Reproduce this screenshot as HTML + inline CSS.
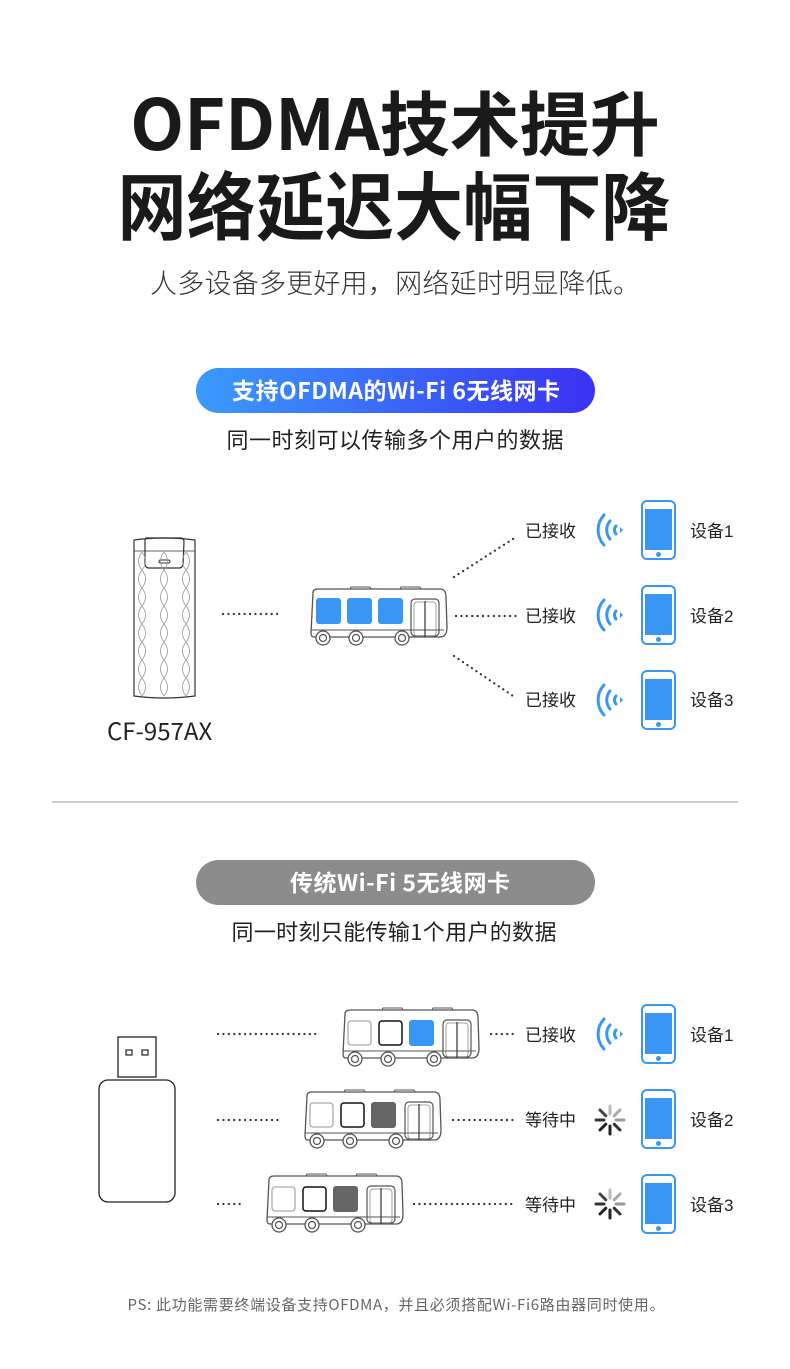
<!DOCTYPE html>
<html><head><meta charset="utf-8"><style>
html,body{margin:0;padding:0;background:#fff;}
svg{display:block;}
text{font-family:"Liberation Sans","Noto Sans CJK SC",sans-serif;}
</style></head><body>
<svg width="790" height="1369" viewBox="0 0 790 1369" xmlns="http://www.w3.org/2000/svg">
<defs>
<linearGradient id="g1" x1="0" x2="1" y1="0" y2="0"><stop offset="0" stop-color="#3a9bfb"/><stop offset="1" stop-color="#3a32f4"/></linearGradient>
<g id="busbody">
  <path d="M3 6 Q3 2 8 2 L130 2 Q136 2 136 10 L137 40 Q137 50 130 50 L4 50 Q1 50 1 46 Z" fill="#fff" stroke="#555" stroke-width="1.3"/>
  <path d="M40 2 L41 0 L60 0 L61 2 M90 2 L91 0 L110 0 L111 2" fill="none" stroke="#555" stroke-width="1"/>
  <line x1="1" y1="43" x2="134" y2="43" stroke="#555" stroke-width="1"/>
  <rect x="101" y="12" width="28" height="37" rx="4" fill="none" stroke="#555" stroke-width="1.2"/>
  <rect x="104" y="15" width="22" height="34" rx="3" fill="none" stroke="#888" stroke-width="0.8"/>
  <line x1="115" y1="14" x2="115" y2="50" stroke="#333" stroke-width="1.2"/>
  <g fill="#fff" stroke="#555" stroke-width="1.3">
    <circle cx="13" cy="51" r="7"/><circle cx="46" cy="51" r="7"/><circle cx="92" cy="51" r="7"/>
  </g>
  <g fill="none" stroke="#555" stroke-width="1.2">
    <circle cx="13" cy="51" r="3.5"/><circle cx="46" cy="51" r="3.5"/><circle cx="92" cy="51" r="3.5"/>
  </g>
</g>
<g id="phone">
  <rect x="1" y="1" width="33" height="58" rx="5" fill="#fff" stroke="#3a96f5" stroke-width="2"/>
  <rect x="4" y="9" width="27" height="41" fill="#3a96f5"/>
  <circle cx="17.5" cy="54.5" r="2.5" fill="#3a96f5"/>
</g>
<g id="wifi" fill="none" stroke="#3a96f5" stroke-width="3" stroke-linecap="round">
  <path d="M10 -15 A22 22 0 0 0 10 15"/>
  <path d="M16 -9 A14 14 0 0 0 16 9"/>
  <path d="M22 -4 A6 6 0 0 0 22 4"/>
  <path d="M26 -3 L29 0 L26 3 Z" fill="#3a96f5" stroke-width="0"/>
</g>
<g id="spin" stroke-width="3" stroke-linecap="round">
  <line x1="0" y1="-6" x2="0" y2="-14" stroke="#bbb"/>
  <line x1="4.2" y1="-4.2" x2="10" y2="-10" stroke="#aaa"/>
  <line x1="6" y1="0" x2="14" y2="0" stroke="#999"/>
  <line x1="4.2" y1="4.2" x2="10" y2="10" stroke="#333"/>
  <line x1="0" y1="6" x2="0" y2="14" stroke="#222"/>
  <line x1="-4.2" y1="4.2" x2="-10" y2="10" stroke="#222"/>
  <line x1="-6" y1="0" x2="-14" y2="0" stroke="#333"/>
  <line x1="-4.2" y1="-4.2" x2="-10" y2="-10" stroke="#444"/>
</g>
</defs>

<!-- Titles -->
<text x="395" y="150" text-anchor="middle" font-size="70" font-weight="bold" fill="#1a1a1a" style="font-family:'Noto Sans CJK SC',sans-serif">OFDMA技术提升</text>
<text x="394" y="234" text-anchor="middle" font-size="74" font-weight="bold" fill="#1a1a1a" textLength="553" lengthAdjust="spacingAndGlyphs" style="font-family:'Noto Sans CJK SC',sans-serif">网络延迟大幅下降</text>
<text x="395" y="293" text-anchor="middle" font-size="27" fill="#333" textLength="490" style="font-family:'Noto Sans CJK SC',sans-serif;font-weight:300">人多设备多更好用，网络延时明显降低。</text>

<!-- pill 1 -->
<rect x="196" y="368" width="399" height="45" rx="22.5" fill="url(#g1)"/>
<text x="396" y="399" text-anchor="middle" font-size="23" fill="#fff" font-weight="bold" textLength="328" style="font-family:'Noto Sans CJK SC',sans-serif">支持OFDMA的Wi-Fi 6无线网卡</text>
<text x="395" y="448" text-anchor="middle" font-size="22" fill="#222" textLength="337" style="font-family:'Noto Sans CJK SC',sans-serif">同一时刻可以传输多个用户的数据</text>

<!-- dongle top -->
<g fill="none" stroke="#333" stroke-width="1.2">
  <path d="M134 540 Q164 536 195 540 L195 696 Q164 700 134 696 Z"/>
  <line x1="134" y1="551" x2="195" y2="551" stroke-width="0.8"/>
  <path d="M146 538 L181 538 Q184 538 184 542 L183 565 Q182 568 179 568 L149 568 Q146 568 145 565 L145 542 Q145 538 146 538 Z"/>
  <rect x="159" y="560" width="11" height="3" rx="1.5" stroke-width="0.9"/>
</g>
<g fill="none" stroke="#999" stroke-width="0.8">
  <path d="M142 552 q-7 9 0 18 q7 9 0 18 q-7 9 0 18 q7 9 0 18 q-7 9 0 18 q7 9 0 18 q-7 9 0 18 q7 9 0 18"/>
  <path d="M142 552 q7 9 0 18 q-7 9 0 18 q7 9 0 18 q-7 9 0 18 q7 9 0 18 q-7 9 0 18 q7 9 0 18 q-7 9 0 18"/>
  <path d="M164 552 q-7 9 0 18 q7 9 0 18 q-7 9 0 18 q7 9 0 18 q-7 9 0 18 q7 9 0 18 q-7 9 0 18 q7 9 0 18"/>
  <path d="M164 552 q7 9 0 18 q-7 9 0 18 q7 9 0 18 q-7 9 0 18 q7 9 0 18 q-7 9 0 18 q7 9 0 18 q-7 9 0 18"/>
  <path d="M186 552 q-7 9 0 18 q7 9 0 18 q-7 9 0 18 q7 9 0 18 q-7 9 0 18 q7 9 0 18 q-7 9 0 18 q7 9 0 18"/>
  <path d="M186 552 q7 9 0 18 q-7 9 0 18 q7 9 0 18 q-7 9 0 18 q7 9 0 18 q-7 9 0 18 q7 9 0 18 q-7 9 0 18"/>
</g>
<text x="107" y="740" font-size="24" fill="#222" style="font-family:'Noto Sans CJK SC',sans-serif">CF-957AX</text>

<!-- dotted lines top -->
<g stroke="#333" stroke-width="2.2" stroke-dasharray="0.1 5.3" stroke-linecap="round" fill="none">
  <line x1="223" y1="614" x2="282" y2="614"/>
  <line x1="456" y1="616" x2="516" y2="616"/>
  <line x1="454" y1="577" x2="516" y2="537"/>
  <line x1="454" y1="656" x2="516" y2="698"/>
</g>

<!-- bus top -->
<g transform="translate(310,587)">
  <use href="#busbody"/>
  <rect x="6" y="11" width="25" height="26" rx="3" fill="#3a96f5"/>
  <rect x="37" y="11" width="25" height="26" rx="3" fill="#3a96f5"/>
  <rect x="68" y="11" width="25" height="26" rx="3" fill="#3a96f5"/>
</g>

<!-- right column -->
<g font-size="17" fill="#222" style="font-family:'Noto Sans CJK SC',sans-serif">
  <text x="525" y="537">已接收</text>
  <text x="525" y="622">已接收</text>
  <text x="525" y="706">已接收</text>
  <text x="690" y="537">设备1</text>
  <text x="690" y="622">设备2</text>
  <text x="690" y="706">设备3</text>
  <text x="525" y="1041">已接收</text>
  <text x="525" y="1126">等待中</text>
  <text x="525" y="1211">等待中</text>
  <text x="690" y="1041">设备1</text>
  <text x="690" y="1126">设备2</text>
  <text x="690" y="1211">设备3</text>
</g>
<use href="#wifi" transform="translate(594,530)"/>
<use href="#wifi" transform="translate(594,615)"/>
<use href="#wifi" transform="translate(594,700)"/>
<use href="#phone" transform="translate(641,500)"/>
<use href="#phone" transform="translate(641,585)"/>
<use href="#phone" transform="translate(641,670)"/>

<line x1="52" y1="802" x2="738" y2="802" stroke="#999" stroke-width="1"/>

<!-- pill 2 -->
<rect x="196" y="860" width="399" height="45" rx="22.5" fill="#8c8c8c"/>
<text x="400" y="891" text-anchor="middle" font-size="23" fill="#fff" font-weight="bold" textLength="220" style="font-family:'Noto Sans CJK SC',sans-serif">传统Wi-Fi 5无线网卡</text>
<text x="394" y="940" text-anchor="middle" font-size="22" fill="#222" textLength="325" style="font-family:'Noto Sans CJK SC',sans-serif">同一时刻只能传输1个用户的数据</text>

<!-- usb bottom -->
<g fill="#fff" stroke="#222" stroke-width="1.3">
  <rect x="118" y="1037" width="38" height="40"/>
  <rect x="126" y="1050" width="6" height="5" stroke-width="1.2"/>
  <rect x="142" y="1050" width="6" height="5" stroke-width="1.2"/>
  <rect x="99" y="1080" width="76" height="122" rx="9"/>
</g>

<!-- dotted lines bottom -->
<g stroke="#333" stroke-width="2.2" stroke-dasharray="0.1 5.3" stroke-linecap="round" fill="none">
  <line x1="218" y1="1034" x2="320" y2="1034"/>
  <line x1="491" y1="1034" x2="516" y2="1034"/>
  <line x1="218" y1="1120" x2="281" y2="1120"/>
  <line x1="453" y1="1120" x2="516" y2="1120"/>
  <line x1="218" y1="1204" x2="243" y2="1204"/>
  <line x1="414" y1="1204" x2="516" y2="1204"/>
</g>

<g transform="translate(342,1008)">
  <use href="#busbody"/>
  <rect x="6" y="13" width="23" height="24" rx="3" fill="#fff" stroke="#aaa" stroke-width="1.3"/>
  <rect x="37" y="13" width="23" height="24" rx="3" fill="#fff" stroke="#111" stroke-width="1.5"/>
  <rect x="67" y="12" width="25" height="26" rx="3" fill="#3a96f5"/>
</g>
<g transform="translate(304,1090)">
  <use href="#busbody"/>
  <rect x="6" y="13" width="23" height="24" rx="3" fill="#fff" stroke="#aaa" stroke-width="1.3"/>
  <rect x="37" y="13" width="23" height="24" rx="3" fill="#fff" stroke="#111" stroke-width="1.5"/>
  <rect x="67" y="12" width="25" height="26" rx="3" fill="#666"/>
</g>
<g transform="translate(266,1174)">
  <use href="#busbody"/>
  <rect x="6" y="13" width="23" height="24" rx="3" fill="#fff" stroke="#aaa" stroke-width="1.3"/>
  <rect x="37" y="13" width="23" height="24" rx="3" fill="#fff" stroke="#111" stroke-width="1.5"/>
  <rect x="67" y="12" width="25" height="26" rx="3" fill="#666"/>
</g>

<use href="#wifi" transform="translate(594,1034)"/>
<use href="#spin" transform="translate(610,1120)"/>
<use href="#spin" transform="translate(610,1204)"/>
<use href="#phone" transform="translate(641,1004)"/>
<use href="#phone" transform="translate(641,1089)"/>
<use href="#phone" transform="translate(641,1174)"/>

<text x="396" y="1310" text-anchor="middle" font-size="15" fill="#666" textLength="537" style="font-family:'Noto Sans CJK SC',sans-serif">PS: 此功能需要终端设备支持OFDMA，并且必须搭配Wi-Fi6路由器同时使用。</text>
</svg>
</body></html>
